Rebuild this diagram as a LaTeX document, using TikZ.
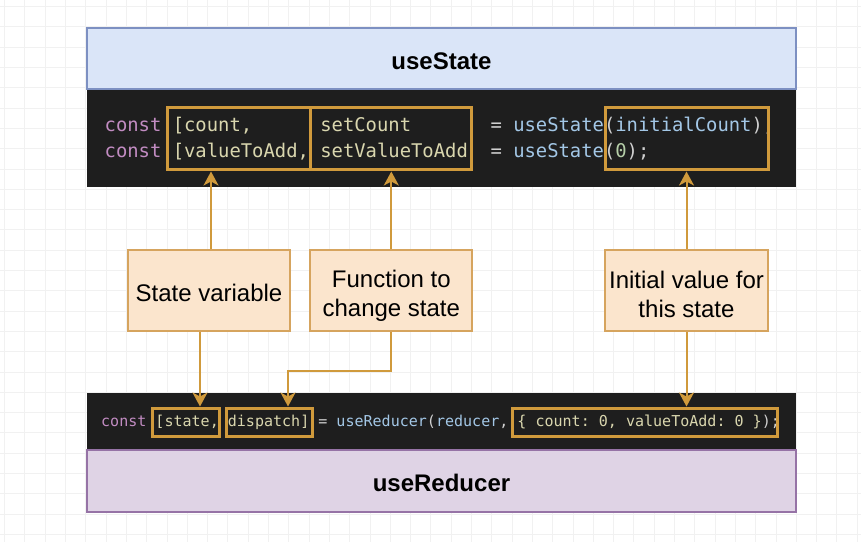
\documentclass[tikz,border=0pt]{standalone}
\usepackage{fontspec}
\setmainfont{Liberation Sans}
\newfontfamily\codefont{DejaVu Sans Mono}
\usepackage{tikz}
\usetikzlibrary{arrows.meta,positioning}
\definecolor{gridgray}{HTML}{F1F1F1}
\definecolor{codebg}{HTML}{1E1E1E}
\definecolor{gold}{HTML}{D09A3C}
\definecolor{lblfill}{HTML}{FBE5CD}
\definecolor{lbledge}{HTML}{D6A45E}
\definecolor{statefill}{HTML}{DAE5F8}
\definecolor{stateedge}{HTML}{7D90C2}
\definecolor{redfill}{HTML}{DFD3E5}
\definecolor{rededge}{HTML}{9673A6}
\definecolor{kwcol}{HTML}{C28CC2}
\definecolor{idcol}{HTML}{D9D6AE}
\definecolor{fncol}{HTML}{A3C7E6}
\definecolor{pucol}{HTML}{D0D0D0}
\definecolor{numcol}{HTML}{B5CEA8}
\newcommand{\ckw}[1]{\textcolor{kwcol}{#1}}
\newcommand{\cid}[1]{\textcolor{idcol}{#1}}
\newcommand{\cfn}[1]{\textcolor{fncol}{#1}}
\newcommand{\cnum}[1]{\textcolor{numcol}{#1}}
\newcommand{\topgap}[1]{\rule{0pt}{#1}}

\begin{document}
\begin{tikzpicture}[x=1bp,y=-1bp,
    titlebox/.style={draw,line width=1.5bp,inner sep=0pt,minimum width=709bp,
      font=\fontsize{24bp}{28bp}\selectfont\bfseries},
    codeblock/.style={fill=codebg,inner sep=0pt,minimum width=709bp},
    codeline/.style={anchor=base west,inner sep=0pt,text=pucol},
    goldbox/.style={draw=gold,line width=3bp,inner sep=0pt},
    lblbox/.style={draw=lbledge,fill=lblfill,line width=2bp,inner sep=0pt,
      minimum width=162bp,minimum height=81bp,align=center,
      font=\fontsize{24bp}{29bp}\selectfont},
    link/.style={draw=gold,line width=2bp,-{Stealth[length=14bp,width=15bp,inset=4bp]}}]
      \useasboundingbox (0,0) rectangle (861,542);
      \fill[white] (0,0) rectangle (861,542);
      % grid
      \foreach \i in {0,...,42}
        \draw[gridgray,line width=0.7bp] (4.5+20.3*\i,0) -- (4.5+20.3*\i,542);
      \foreach \j in {0,...,26}
        \draw[gridgray,line width=0.7bp] (0,6.5+20.3*\j) -- (861,6.5+20.3*\j);
      % useState
      \node[codeblock,minimum height=98bp] (topcode) at (441.5,138) {};
      \node[titlebox,draw=stateedge,fill=statefill,minimum height=61bp] (usestate) at (441.5,58.5) {\topgap{22bp}useState};
      \node[codeline,font=\codefont\fontsize{18.85bp}{26.5bp}\selectfont] (line1) at (104.5,131.5)
        {\ckw{const}~\cid{[count,}~~~~~~\cid{setCount}~~~~~~~=~\cfn{useState}(\cfn{initialCount});};
      \node[codeline,font=\codefont\fontsize{18.85bp}{26.5bp}\selectfont] (line2) at (104.5,158)
        {\ckw{const}~\cid{[valueToAdd,}~\cid{setValueToAdd}~~=~\cfn{useState}(\cnum{0});};
      \node[goldbox,minimum width=143bp,minimum height=62bp] (countbox) at (239,139) {};
      \node[goldbox,minimum width=160.5bp,minimum height=62bp] (setbox) at (390.75,139) {};
      \node[goldbox,minimum width=163bp,minimum height=62bp] (initbox) at (686.5,139) {};
      % useReducer
      \node[codeblock,minimum height=57bp] (botcode) at (441.5,421.5) {};
      \node[titlebox,draw=rededge,fill=redfill,minimum height=62bp] (usereducer) at (441.5,481) {\topgap{21bp}useReducer};
      \node[codeline,font=\codefont\fontsize{15.03bp}{18bp}\selectfont] (line3) at (101,426.5)
        {\ckw{const}~\cid{[state,}~\cid{dispatch]}~=~\cfn{useReducer}(\cfn{reducer},~\cid{\{~count:~0,~valueToAdd:~0~\}});};
      \node[goldbox,minimum width=67bp,minimum height=28bp] (stbox) at (185.5,422) {};
      \node[goldbox,minimum width=86bp,minimum height=28bp] (dispbox) at (269,422) {};
      \node[goldbox,minimum width=265bp,minimum height=28bp] (objbox) at (644.5,422) {};
      % labels
      \node[lblbox] (statelbl) at (209,290.5) {\topgap{23bp}State variable};
      \node[lblbox] (fnlbl) at (391.3,290.5) {\topgap{28bp}Function to\\change state};
      \node[lblbox,minimum width=163bp] (initlbl) at (686.5,290.5) {\topgap{26bp}Initial value for\\this state};
      % connectors
      \coordinate (stup) at ([xshift=2bp]statelbl.north);
      \coordinate (stdown) at ([xshift=-9bp]statelbl.south);
      \coordinate (fnbend) at (288,371);
      \draw[link] (stup) -- (stup |- countbox.south);
      \draw[link] (fnlbl.north) -- (fnlbl.north |- setbox.south);
      \draw[link] (initlbl.north) -- (initlbl.north |- initbox.south);
      \draw[link] (stdown) -- (stdown |- stbox.north);
      \draw[link] (fnlbl.south) |- (fnbend) -- (fnbend |- dispbox.north);
      \draw[link] (initlbl.south) -- (initlbl.south |- objbox.north);
    \end{tikzpicture}
\end{document}
